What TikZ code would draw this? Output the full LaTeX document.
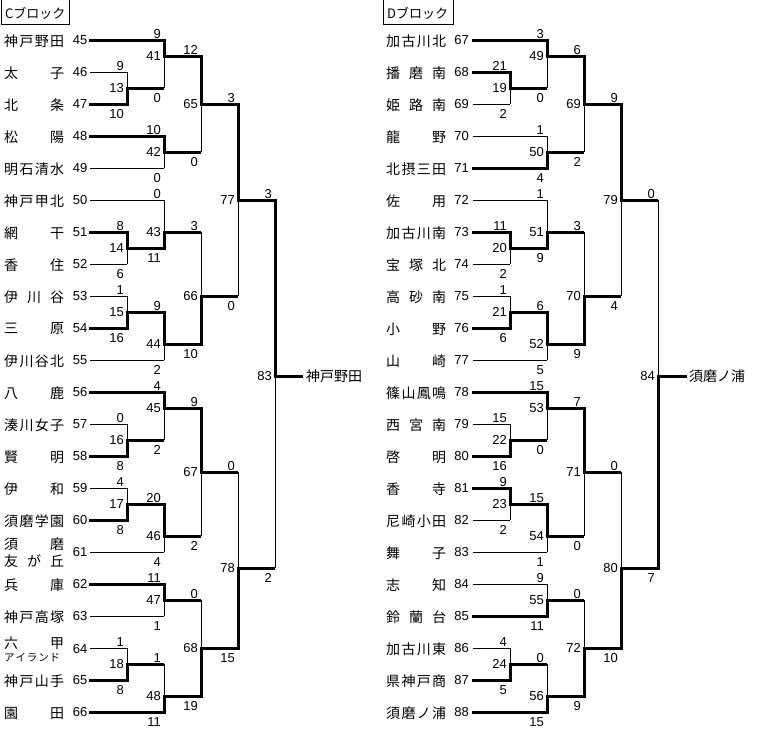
\documentclass[tikz,border=0pt]{standalone}
\usepackage{fontspec}
\setmainfont{Noto Sans CJK JP}
\newfontfamily\numfont{Liberation Sans}
\usepackage{tikz}
\def\nmloop#1#2\nmend{#1\ifx\relax#2\relax\else\hfill\nmloop#2\nmend\fi}
\newcommand\spread[2][60pt]{\makebox[#1][s]{\expandafter\nmloop#2\nmend}}

\begin{document}
\begin{tikzpicture}[x=1pt,y=-1pt,
    win/.style={line width=3pt,line cap=rect},
    wh/.style={line width=3pt},
    lose/.style={line width=1pt},
    tname/.style={anchor=west,inner sep=0pt,yshift=-1pt,font=\fontsize{14}{16}\selectfont},
    tnum/.style={anchor=east,inner sep=0pt,font=\numfont\fontsize{13}{15}\selectfont},
    mno/.style={anchor=east,inner sep=1pt,xshift=-2pt,font=\numfont\fontsize{13}{15}\selectfont},
    sctop/.style={anchor=south east,inner sep=1pt,xshift=-2pt,font=\numfont\fontsize{13}{15}\selectfont},
    scbot/.style={anchor=north east,inner sep=1pt,xshift=-2pt,yshift=-4pt,font=\numfont\fontsize{13}{15}\selectfont}]
    \useasboundingbox (0,0) rectangle (759,729);
    % block headers
    \node[anchor=west,inner sep=0pt,font=\fontsize{13}{15}\selectfont] (hdC) at (5,13) {Cブロック};
    \draw[lose] (1,0) -- (1,24) -- (69,24) -- (69,0);
    \node[anchor=west,inner sep=0pt,font=\fontsize{13}{15}\selectfont] (hdD) at (387,13) {Dブロック};
    \draw[lose] (383,0) -- (383,24) -- (453,24) -- (453,0);
    % C block teams
    \foreach \n/\y/\nm in {45/40/神戸野田,46/72/太子,47/104/北条,48/136/松陽,49/168/明石清水,
        50/200/神戸甲北,51/232/網干,52/264/香住,53/296/伊川谷,54/328/三原,55/360/伊川谷北,
        56/392/八鹿,57/424/湊川女子,58/456/賢明,59/488/伊和,60/520/須磨学園,
        62/584/兵庫,63/616/神戸高塚,65/680/神戸山手,66/712/園田}{
        \node[tname] (n\n) at (4,\y) {\spread{\nm}};
        \node[tnum] (k\n) at (87.5,\y) {\n};
        \coordinate (t\n) at (90,\y);
    }
    \node[tname] (n61a) at (4,543) {\spread{須磨}};
    \node[tname] (n61b) at (4,560) {\spread{友が丘}};
    \node[tnum] (k61) at (87.5,552) {61};
    \coordinate (t61) at (90,552);
    \node[tname] (n64a) at (4,642) {\spread{六甲}};
    \node[tname,font=\fontsize{10.5}{12}\selectfont] (n64b) at (4,657) {\spread[56pt]{アイランド}};
    \node[tnum] (k64) at (87.5,649) {64};
    \coordinate (t64) at (90,648);
    % D block teams
    \foreach \n/\y/\nm in {67/40/加古川北,68/72/播磨南,69/104/姫路南,70/136/龍野,71/168/北摂三田,
        72/200/佐用,73/232/加古川南,74/264/宝塚北,75/296/高砂南,76/328/小野,77/360/山崎,
        78/392/篠山鳳鳴,79/424/西宮南,80/456/啓明,81/488/香寺,82/520/尼崎小田,83/552/舞子,
        84/584/志知,85/616/鈴蘭台,86/648/加古川東,87/680/県神戸商,88/712/須磨ノ浦}{
        \node[tname] (n\n) at (386,\y) {\spread{\nm}};
        \node[tnum] (k\n) at (469,\y) {\n};
        \coordinate (t\n) at (473,\y);
    }
    % matches: number/x/y/upper/score/lower/score/winner/loser line
    \foreach \m/\x/\y/\a/\sa/\b/\sb/\w/\h in {
        13/127/88/t46/9/t47/10/b/lose, 41/164/56/t45/9/m13/0/a/wh,
        42/164/152/t48/10/t49/0/a/lose, 65/201/104/m41/12/m42/0/a/wh,
        14/127/248/t51/8/t52/6/a/lose, 43/164/232/t50/0/m14/11/b/lose,
        15/127/312/t53/1/t54/16/b/lose, 44/164/344/m15/9/t55/2/a/lose,
        66/201/296/m43/3/m44/10/b/wh, 77/238/200/m65/3/m66/0/a/wh,
        16/127/440/t57/0/t58/8/b/lose, 45/164/408/t56/4/m16/2/a/wh,
        17/127/504/t59/4/t60/8/b/lose, 46/164/536/m17/20/t61/4/a/lose,
        67/201/472/m45/9/m46/2/a/wh, 47/164/600/t62/11/t63/1/a/lose,
        18/127/664/t64/1/t65/8/b/lose, 48/164/696/m18/1/t66/11/b/wh,
        68/201/648/m47/0/m48/19/b/wh, 78/238/568/m67/0/m68/15/b/wh,
        83/275/376/m77/3/m78/2/a/wh,
        19/510/88/t68/21/t69/2/a/lose, 49/547/56/t67/3/m19/0/a/wh,
        50/547/152/t70/1/t71/4/b/lose, 69/584/104/m49/6/m50/2/a/wh,
        20/510/248/t73/11/t74/2/a/lose, 51/547/232/t72/1/m20/9/b/lose,
        21/510/312/t75/1/t76/6/b/lose, 52/547/344/m21/6/t77/5/a/lose,
        70/584/296/m51/3/m52/9/b/wh, 79/621/200/m69/9/m70/4/a/wh,
        22/510/440/t79/15/t80/16/b/lose, 53/547/408/t78/15/m22/0/a/wh,
        23/510/504/t81/9/t82/2/a/lose, 54/547/536/m23/15/t83/1/a/lose,
        71/584/472/m53/7/m54/0/a/wh, 55/547/600/t84/9/t85/11/b/lose,
        24/510/664/t86/4/t87/5/b/lose, 56/547/696/m24/0/t88/15/b/wh,
        72/584/648/m55/0/m56/9/b/wh, 80/621/568/m71/0/m72/10/b/wh,
        84/658/376/m79/0/m80/7/b/wh}{
        \coordinate (m\m) at (\x,\y);
        \node[mno] at (m\m) {\m};
        \node[sctop] at (\a -| m\m) {\sa};
        \node[scbot] at (\b -| m\m) {\sb};
        \if a\w
            \draw[win] (\a) -| (m\m);
            \draw[\h] (\b) -- (\b -| m\m);
            \draw[lose] (\b -| m\m) -- (m\m);
        \else
            \draw[win] (\b) -| (m\m);
            \draw[\h] (\a) -- (\a -| m\m);
            \draw[lose] (\a -| m\m) -- (m\m);
        \fi
    }
    % block winners
    \node[tname,yshift=1pt] (w83) at (306,376) {神戸野田};
    \draw[win] (m83) -- ([xshift=-4.5pt]w83.west);
    \node[tname,yshift=1pt] (w84) at (689,376) {須磨ノ浦};
    \draw[win] (m84) -- ([xshift=-3.5pt]w84.west);
\end{tikzpicture}
\end{document}
